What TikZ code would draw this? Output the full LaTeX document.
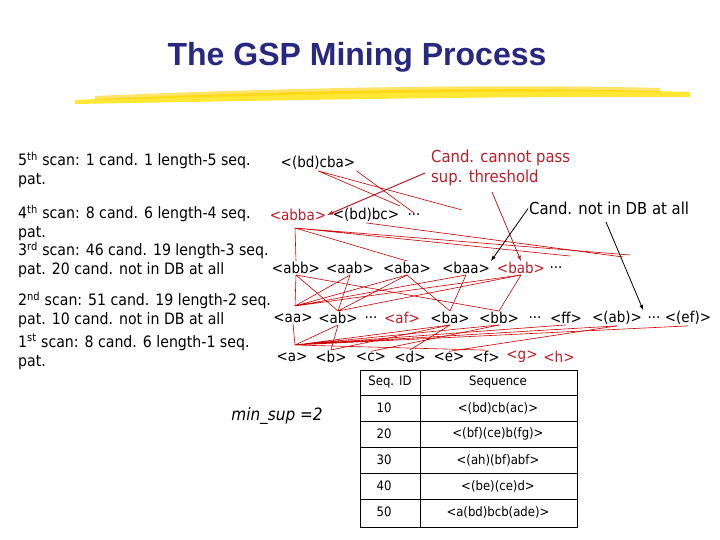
\documentclass[tikz,border=0pt]{standalone}
\usepackage{fontspec}
\setmainfont{DejaVu Sans Condensed}
\newfontfamily\titlefont{Liberation Sans}
\begin{document}
\begin{tikzpicture}[x=1pt,y=-1pt,
  every node/.style={inner sep=1pt},
  seq/.style={anchor=center,font=\fontsize{15}{17}\selectfont},
  rseq/.style={seq,text=darkred},
  lbl/.style={anchor=north west,align=left,font=\fontsize{15.7}{19}\selectfont},
  note/.style={font=\fontsize{16.5}{20}\selectfont},
  rl/.style={draw=red!80!black,line width=0.6pt},
  cell/.style={font=\fontsize{13}{15}\selectfont}]
\definecolor{darkred}{RGB}{190,30,40}
\definecolor{titleblue}{RGB}{40,40,130}
\useasboundingbox (0,0) rectangle (720,540);
\fill[white] (0,0) rectangle (720,540);
% title
\node[font=\titlefont\bfseries\fontsize{32}{36}\selectfont,text=titleblue] (title) at (357,57) {The GSP Mining Process};
\fill[yellow!85!orange,opacity=0.8] (75,100) .. controls (300,90) and (500,86) .. (690,92) -- (690,97) .. controls (500,96) and (300,100) .. (75,104) -- cycle;
\fill[yellow!70!orange,opacity=0.6] (95,96) .. controls (300,87) and (500,84) .. (660,88) -- (660,92) .. controls (500,90) and (300,94) .. (95,100) -- cycle;
% left labels
\node[lbl] (s5) at (17,151) {5\textsuperscript{th} scan: 1 cand. 1 length-5 seq.\\pat.};
\node[lbl] (s4) at (17,204) {4\textsuperscript{th} scan: 8 cand. 6 length-4 seq.\\pat.};
\node[lbl] (s3) at (17,241) {3\textsuperscript{rd} scan: 46 cand. 19 length-3 seq.\\pat. 20 cand. not in DB at all};
\node[lbl] (s2) at (17,291) {2\textsuperscript{nd} scan: 51 cand. 19 length-2 seq.\\pat. 10 cand. not in DB at all};
\node[lbl] (s1) at (17,333) {1\textsuperscript{st} scan: 8 cand. 6 length-1 seq.\\pat.};
% level 5
\node[seq] (cba) at (318,163) {<(bd)cba>};
% level 4
\node[rseq] (abba) at (298,215) {<abba>};
\node[seq] (bdbc) at (366,215) {<(bd)bc>};
\node[seq] (d4) at (414,215) {...};
% level 3
\node[seq] (abb) at (296,268) {<abb>};
\node[seq] (aab) at (350,268) {<aab>};
\node[seq] (aba) at (407,268) {<aba>};
\node[seq] (baa) at (466,268) {<baa>};
\node[rseq] (bab) at (521,268) {<bab>};
\node[seq] (d3) at (556,268) {...};
% level 2
\node[seq] (aa) at (293,318) {<aa>};
\node[seq] (ab) at (338,318) {<ab>};
\node[seq] (d2a) at (371,318) {...};
\node[rseq] (af) at (402,318) {<af>};
\node[seq] (ba) at (450,318) {<ba>};
\node[seq] (bb) at (499,318) {<bb>};
\node[seq] (d2b) at (535,318) {...};
\node[seq] (ff) at (566,318) {<ff>};
\node[seq] (abp) at (617,318) {<(ab)>};
\node[seq] (d2c) at (654,318) {...};
\node[seq] (ef) at (688,318) {<(ef)>};
% level 1
\node[seq] (a) at (292,357) {<a>};
\node[seq] (b) at (331,357) {<b>};
\node[seq] (c) at (371,357) {<c>};
\node[seq] (d) at (410,357) {<d>};
\node[seq] (e) at (449,357) {<e>};
\node[seq] (f) at (486,357) {<f>};
\node[rseq] (g) at (522,357) {<g>};
\node[rseq] (h) at (559,357) {<h>};
% red lines level1-2
\coordinate (a1) at (295,345);
\draw[rl] (a1) -- (aa.south) (a1) -- (ab.south) (a1) -- (ba.south) (a1) -- (bb.south)
  (a1) -- (ff.south) (a1) -- (abp.south) (a1) -- (ef.south) (a1) -- (f.north);
\draw[rl] (b.north) -- (ab.south) (b.north) -- (ba.south) (d.north) -- (ba.south) (e.north) -- (abp.south) (c.north) -- (bb.south);
% level 2-3
\coordinate (aa1) at (295,306);
\draw[rl] (aa1) -- (abb.south) (aa1) -- (aab.south) (aa1) -- (aba.south) (aa1) -- (baa.south) (aa1) -- (bab.south);
\draw[rl] (ab.north) -- (abb.south) (ab.north) -- (aab.south) (ab.north) -- (aba.south) (ab.north) -- (bab.south);
\draw[rl] (ba.north) -- (aba.south) (ba.north) -- (baa.south) (bb.north) -- (abb.south) (bb.north) -- (bab.south);
% level 3-4
\coordinate (ab4) at (295,228);
\draw[rl] (ab4) -- (abb.north) (ab4) -- (aba.north) (ab4) -- (570,256) (ab4) -- (630,255);
\draw[rl] (bdbc.south) -- (623,257) (bdbc.south) -- (600,254);
% level 4-5
\draw[rl] (cba.south) -- (462,210) (cba.south) -- (400,206) (cba.south east) -- (d4.north);
% notes
\node[note,text=darkred,align=left,anchor=north west] (n1) at (430,149) {Cand. cannot pass\\sup. threshold};
\node[note,anchor=north west] (n2) at (528,201) {Cand. not in DB at all};
\coordinate (n1a) at (425,173);
\draw[darkred,line width=1pt,-latex] (n1a) -- (abba.east);
\draw[darkred,line width=0.8pt,-latex] (492,192) -- (bab.north);
\draw[line width=0.8pt,-latex] (n2.west) -- (baa.north east);
\draw[line width=0.8pt,-latex] (606,222) -- (abp.north east);
% min sup
\node[font=\itshape\fontsize{17}{19}\selectfont] (ms) at (277,416) {min\_sup =2};
% table
\draw[line width=0.8pt] (360,370) rectangle (577,527);
\draw (420,370) -- (420,527);
\foreach \yy in {395,421,447,473,499} \draw (360,\yy) -- (577,\yy);
\node[cell] (h1) at (390,382) {Seq. ID};
\node[cell] (h2) at (498,382) {Sequence};
\node[cell] (i1) at (384,408) {10}; \node[cell] (q1) at (498,408) {<(bd)cb(ac)>};
\node[cell] (i2) at (384,434) {20}; \node[cell] (q2) at (498,434) {<(bf)(ce)b(fg)>};
\node[cell] (i3) at (384,460) {30}; \node[cell] (q3) at (498,460) {<(ah)(bf)abf>};
\node[cell] (i4) at (384,486) {40}; \node[cell] (q4) at (498,486) {<(be)(ce)d>};
\node[cell] (i5) at (384,512) {50}; \node[cell] (q5) at (498,512) {<a(bd)bcb(ade)>};
\end{tikzpicture}
\end{document}
